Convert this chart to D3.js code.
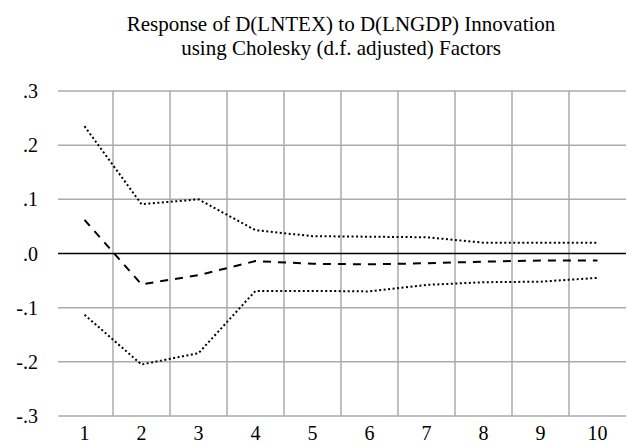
<!DOCTYPE html>
<html>
<head>
<meta charset="utf-8">
<script src="https://cdn.jsdelivr.net/npm/d3@7"></script>
<style>
  html, body { margin: 0; padding: 0; background: #fff; }
  svg { display: block; }
</style>
</head>
<body>
<svg id="chart" width="627" height="443"></svg>
<script>
// Impulse response periods and estimates
const periods = [1, 2, 3, 4, 5, 6, 7, 8, 9, 10];
const response = [0.062, -0.057, -0.040, -0.014, -0.019, -0.020, -0.018, -0.015, -0.013, -0.013];
const upperBand = [0.235, 0.091, 0.100, 0.043, 0.032, 0.031, 0.030, 0.020, 0.020, 0.020];
const lowerBand = [-0.113, -0.205, -0.184, -0.069, -0.069, -0.070, -0.058, -0.053, -0.052, -0.045];
const yTicks = [-0.3, -0.2, -0.1, 0, 0.1, 0.2, 0.3];
const yTickLabels = ["-.3", "-.2", "-.1", ".0", ".1", ".2", ".3"];
const titleLines = ["Response of D(LNTEX) to D(LNGDP) Innovation", "using Cholesky (d.f. adjusted) Factors"];

const FONT = "'Liberation Serif', 'Times New Roman', Times, serif";

const svg = d3.select("#chart").attr("font-family", FONT);
const plot = { left: 56, right: 626, top: 91, bottom: 416 };

const x = d3.scaleBand().domain(periods).range([plot.left, plot.right]).paddingInner(0).paddingOuter(0);
const y = d3.scaleLinear().domain([-0.3, 0.3]).range([plot.bottom, plot.top]);
const cx = p => x(p) + x.bandwidth() / 2;

// Title
svg.append("g").selectAll("text").data(titleLines).join("text")
  .attr("x", (plot.left + plot.right) / 2)
  .attr("y", (d, i) => 31 + i * 24)
  .attr("text-anchor", "middle")
  .attr("font-size", 21)
  .attr("fill", "#000")
  .text(d => d);

// Horizontal gridlines
svg.append("g").selectAll("line").data(yTicks.filter(v => v !== 0)).join("line")
  .attr("x1", plot.left + 2).attr("x2", plot.right)
  .attr("y1", d => y(d)).attr("y2", d => y(d))
  .attr("stroke", "#ababab").attr("stroke-width", 1.5);

// Vertical gridlines at the boundaries between periods
svg.append("g").selectAll("line").data(periods.slice(1)).join("line")
  .attr("x1", d => x(d)).attr("x2", d => x(d))
  .attr("y1", plot.top).attr("y2", plot.bottom)
  .attr("stroke", "#ababab").attr("stroke-width", 1.5);

// Zero line
svg.append("line")
  .attr("x1", plot.left + 2).attr("x2", plot.right)
  .attr("y1", y(0)).attr("y2", y(0))
  .attr("stroke", "#000").attr("stroke-width", 1.5);

// Y tick labels
svg.append("g").selectAll("text").data(yTicks).join("text")
  .attr("x", 38)
  .attr("y", d => y(d))
  .attr("dy", "0.35em")
  .attr("text-anchor", "end")
  .attr("font-size", 20)
  .attr("fill", "#000")
  .text((d, i) => yTickLabels[i]);

// X tick labels
svg.append("g").selectAll("text").data(periods).join("text")
  .attr("x", d => cx(d))
  .attr("y", 440)
  .attr("text-anchor", "middle")
  .attr("font-size", 20)
  .attr("fill", "#000")
  .text(d => d);

const line = d3.line().x((d, i) => cx(periods[i])).y(d => y(d));

// Confidence bands (dotted)
[upperBand, lowerBand].forEach(band => {
  svg.append("path").datum(band)
    .attr("d", line)
    .attr("fill", "none")
    .attr("stroke", "#000")
    .attr("stroke-width", 2)
    .attr("stroke-dasharray", "2,2.5");
});

// Point estimate (dashed)
svg.append("path").datum(response)
  .attr("d", line)
  .attr("fill", "none")
  .attr("stroke", "#000")
  .attr("stroke-width", 2)
  .attr("stroke-dasharray", "8,7");
</script>
</body>
</html>
